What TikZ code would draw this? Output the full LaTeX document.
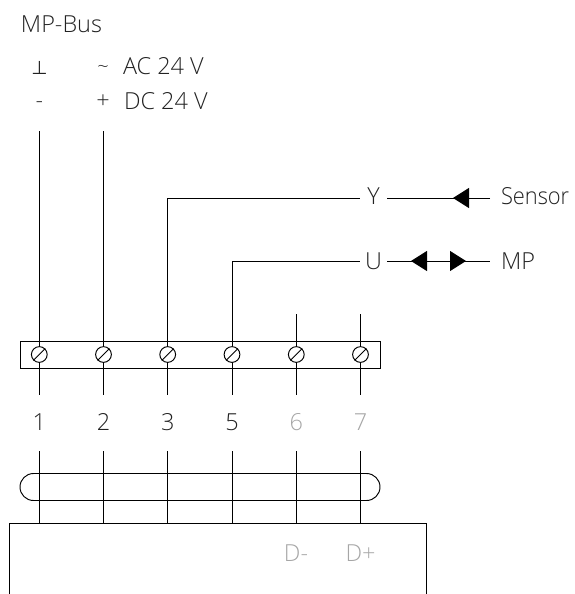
\documentclass[tikz,border=0pt]{standalone}
\usepackage{fontspec}
\setmainfont{Open Sans Light}
\newfontfamily\symfont{DejaVu Sans}
\usetikzlibrary{arrows.meta}
\definecolor{txt}{HTML}{222222}
\definecolor{pale}{HTML}{A6A6A6}
\tikzset{
  wire/.style={line width=0.72pt,black},
  lab/.style={inner sep=0pt,outer sep=0pt,text=txt,font=\fontsize{17.6pt}{18pt}\selectfont,anchor=base},
  labw/.style={lab,anchor=base west},
  palelab/.style={lab,text=pale},
  screw/.style={circle,draw=black,line width=0.72pt,minimum size=11.8pt,inner sep=0pt,fill=white},
  tip/.style={-{Triangle[length=12pt,width=15pt]}},
}
\begin{document}
\begin{tikzpicture}[x=0.75pt,y=-0.75pt]
\useasboundingbox (0,0) rectangle (575,594);
% top labels
\node[labw] (bus) at (21,32) {MP-Bus};
\node[lab,font=\symfont\fontsize{14pt}{14pt}\selectfont] (gnd) at (39.5,74) {⊥};
\node[lab,font=\fontsize{15pt}{15pt}\selectfont] (tilde) at (103,73) {\textasciitilde};
\node[labw] (ac) at (123,74) {AC 24 V};
\node[lab] (minus) at (39.5,108) {-};
\node[lab] (plus) at (103,108) {+};
\node[labw] (dc) at (124,109) {DC 24 V};
% coordinates
\foreach \n/\x in {a/39.3,b/103.5,c/167.7,d/232,e/296.3,f/360.5}{
  \coordinate (low\n) at (\x,394.5);
  \coordinate (lt\n) at (\x,451);
  \coordinate (lb\n) at (\x,523);
}
\coordinate (topa) at (39.3,131);
\coordinate (topb) at (103.5,131);
\coordinate (tope) at (296.3,314);
\coordinate (topf) at (360.5,314);
\coordinate (bendc) at (167.7,198);
\coordinate (bendd) at (232,261);
% terminal bar
\draw[wire] (20,341) rectangle (380,368);
% wires and screws
\draw[wire] (topa) -- (lowa);
\draw[wire] (topb) -- (lowb);
\draw[wire] (bendc) -- (lowc);
\draw[wire] (bendd) -- (lowd);
\draw[wire] (tope) -- (lowe);
\draw[wire] (topf) -- (lowf);
\foreach \n/\x in {a/39.3,b/103.5,c/167.7,d/232,e/296.3,f/360.5}{
  \node[screw] (s\n) at (\x,354.5) {};
  \draw[wire] (s\n.225) -- (s\n.45);
}
% numbers
\node[lab] (n1) at (39.3,430) {1};
\node[lab] (n2) at (103.5,430) {2};
\node[lab] (n3) at (167.7,430) {3};
\node[lab] (n5) at (232,430) {5};
\node[palelab] (n6) at (296.3,430) {6};
\node[palelab] (n7) at (360.5,430) {7};
% signals
\node[lab] (Y) at (373.5,204.5) {Y};
\node[lab] (U) at (373.5,269) {U};
\node[labw,xscale=0.93,transform shape] (sensor) at (501,204) {Sensor};
\node[labw] (mp) at (501,269) {MP};
\coordinate (yl) at (360,198);
\coordinate (yr) at (387,198);
\coordinate (ye) at (490,198);
\coordinate (yt) at (453,198);
\coordinate (ul) at (360,261);
\coordinate (ur) at (387,261);
\coordinate (ue) at (490,261);
\coordinate (ut1) at (411,261);
\coordinate (ut2) at (466,261);
\coordinate (um) at (438,261);
\draw[wire] (bendc) -- (yl);
\draw[wire] (bendd) -- (ul);
\draw[wire] (yr) -- (ye);
\draw[wire] (ur) -- (ue);
\draw[wire,tip] (ye) -- (yt);
\draw[wire,tip] (um) -- (ut1);
\draw[wire,tip] (um) -- (ut2);
% loop
\draw[wire] (33.5,473.5) -- (366.5,473.5) arc[start angle=90,end angle=-90,radius=10.125pt] -- (33.5,500.5) arc[start angle=270,end angle=90,radius=10.125pt] -- cycle;
% lower wires
\foreach \n in {a,b,c,d,e,f}{\draw[wire] (lt\n) -- (lb\n);}
% device
\draw[wire] (9,594) -- (9,523) -- (426,523) -- (426,594);
\node[palelab] (dm) at (296,561) {D-};
\node[palelab] (dp) at (360.5,561) {D+};
\end{tikzpicture}
\end{document}
